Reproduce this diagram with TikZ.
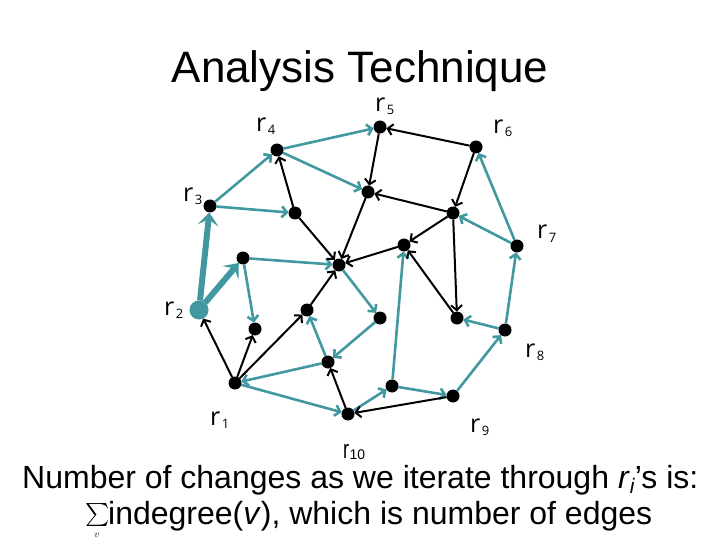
\documentclass[tikz,border=0pt]{standalone}
\usepackage{fontspec}
\setmainfont{Liberation Sans}
\newfontfamily\labfont{Open Sans}
\usetikzlibrary{arrows.meta}
\definecolor{tealc}{RGB}{66,152,160}
\newcommand{\rlab}[1]{r\hspace{1.5pt}\raisebox{-3pt}{\fontsize{13}{13}\selectfont #1}}
\begin{document}
\begin{tikzpicture}[x=1pt,y=-1pt,
  dot/.style={circle,fill=black,inner sep=0pt,outer sep=0pt,minimum size=13pt},
  tdot/.style={circle,fill=tealc,inner sep=0pt,outer sep=0pt,minimum size=19pt},
  blk/.style={draw=black,line width=2pt,-{Straight Barb[length=5pt,width=11pt]}},
  tl/.style={draw=tealc,line width=2.6pt,-{Straight Barb[length=5pt,width=11pt]}},
  tthick/.style={draw=tealc,line width=6pt,-{Stealth[length=13pt,width=21pt,inset=6pt]}},
  lab/.style={font=\labfont\fontsize{25}{25}\selectfont,anchor=base west,inner sep=0pt},
  txt/.style={font=\fontsize{32}{32}\selectfont,inner sep=0pt}
]
\useasboundingbox (0,0) rectangle (720,540);
\node[font=\fontsize{44}{44}\selectfont,anchor=base,inner sep=0pt] (title) at (360,83) {Analysis Technique};
% nodes
\node[dot] (r1) at (235,383) {};
\node[tdot] (r2) at (199,310) {};
\node[dot] (r3) at (210,206) {};
\node[dot] (r4) at (277,150) {};
\node[dot] (r5) at (380,127) {};
\node[dot] (r6) at (476,147) {};
\node[dot] (r7) at (517,246) {};
\node[dot] (r8) at (505,330) {};
\node[dot] (r9) at (453,396) {};
\node[dot] (r10) at (348,414) {};
\node[dot] (a) at (295,213) {};
\node[dot] (b) at (368,192) {};
\node[dot] (c) at (453,213) {};
\node[dot] (d) at (404,245) {};
\node[dot] (e) at (339,265) {};
\node[dot] (f) at (243,258) {};
\node[dot] (g) at (255,329) {};
\node[dot] (h) at (307,310) {};
\node[dot] (i) at (380,318) {};
\node[dot] (j) at (457,318) {};
\node[dot] (k) at (328,362) {};
\node[dot] (l) at (392,386) {};
% labels
\node[lab] (l1) at (210,425) {\rlab{1}};
\node[lab] (l2) at (164,315) {\rlab{2}};
\node[lab] (l3) at (183,202) {\rlab{3}};
\node[lab] (l4) at (256,132) {\rlab{4}};
\node[lab] (l5) at (375,112) {\rlab{5}};
\node[lab] (l6) at (493,134) {\rlab{6}};
\node[lab] (l7) at (537,239) {\rlab{7}};
\node[lab] (l8) at (525,357) {\rlab{8}};
\node[lab] (l9) at (470,432) {\rlab{9}};
\node[lab,font=\fontsize{24}{24}\selectfont] (l10) at (343,458) {\scalebox{0.75}[1.1]{r}\hspace{0.5pt}\raisebox{-1pt}{\fontsize{14}{14}\selectfont 10}};
% teal edges
\draw[tl] (r4) -- (r5);
\draw[tl] (r4) -- (b);
\draw[tl] (r3) -- (r4);
\draw[tl] (r3) -- (a);
\draw[tl] (f) -- (e);
\draw[tl] (f) -- (g);
\draw[tl] (r7) -- (r6);
\draw[tl] (r7) -- (c);
\draw[tl] (r8) -- (r7);
\draw[tl] (r8) -- (j);
\draw[tl] (r9) -- (r8);
\draw[tl] (l) -- (r9);
\draw[tl] (r10) -- (l);
\draw[tl] (l) -- (d);
\draw[tl] (e) -- (i);
\draw[tl] (i) -- (k);
\draw[tl] (k) -- (h);
\draw[tl] (k) -- (r1);
\draw[tl] (r1) -- (r10);
\draw[tthick] (r2) -- (r3);
\draw[tthick] (r2) -- (f);
% black edges
\draw[blk] (r6) -- (r5);
\draw[blk] (r5) -- (b);
\draw[blk] (r6) -- (c);
\draw[blk] (c) -- (b);
\draw[blk] (c) -- (d);
\draw[blk] (d) -- (e);
\draw[blk] (b) -- (e);
\draw[blk] (a) -- (r4);
\draw[blk] (a) -- (e);
\draw[blk] (c) -- (j);
\draw[blk] (j) -- (d);
\draw[blk] (h) -- (e);
\draw[blk] (r1) -- (h);
\draw[blk] (r1) -- (g);
\draw[blk] (r1) -- (r2);
\draw[blk] (r10) -- (k);
\draw[blk] (r9) -- (r10);
% bottom text
\node[txt,anchor=base west] (line1) at (22,488) {Number of changes as we iterate through \textit{r}\raisebox{-5pt}{\fontsize{21}{21}\selectfont\textit{i}}’s is:};
\node[inner sep=0pt,anchor=base] (sig) at (98,521) {\smash{\scalebox{2.3}{$\sum$}}};
\node[inner sep=0pt,anchor=base] (sv) at (97,537) {\scalebox{1}{$v$}};
\node[txt,anchor=base west] (line2) at (108,524) {indegree(\textit{v}), which is number of edges};
\end{tikzpicture}
\end{document}
